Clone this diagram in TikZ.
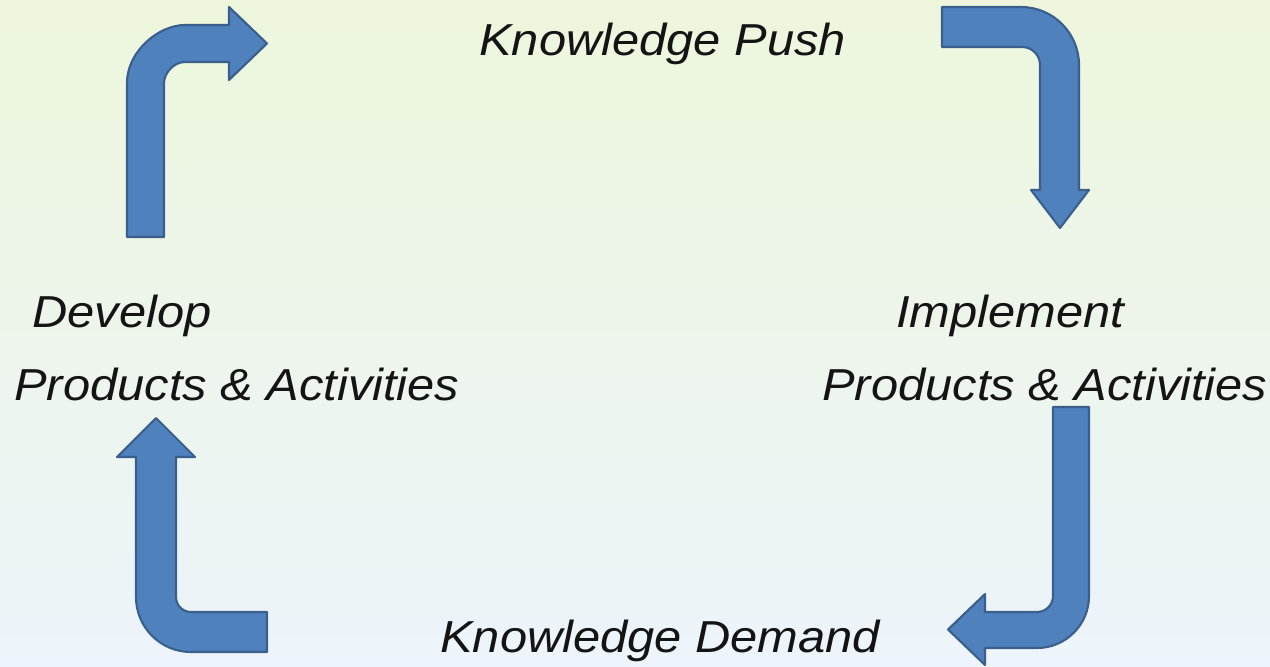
\documentclass[tikz,border=0pt]{standalone}
\usepackage{fontspec}
\newfontfamily\lblfont{Liberation Sans}[FakeStretch=1.09]
\definecolor{bgtop}{HTML}{EDF6DC}
\definecolor{bgmid}{HTML}{F0F7EE}
\definecolor{bgbot}{HTML}{EDF4FB}
\definecolor{arrowfill}{HTML}{4F81BD}
\definecolor{arrowline}{HTML}{3A5F8C}
\definecolor{txt}{HTML}{141414}
\tikzset{
  bigarrow/.style={fill=arrowfill, draw=arrowline, line width=1.2pt, line join=round},
  lbl/.style={anchor=base west, inner sep=0pt, text=txt, font=\lblfont\itshape\fontsize{25.5}{30}\selectfont}
}
\begin{document}
\begin{tikzpicture}[x=0.02cm, y=-0.02cm]
\useasboundingbox (0,0) rectangle (1270,666);
\shade[top color=bgtop, middle color=bgmid, bottom color=bgbot] (0,0) rectangle (1270,666);
% arrow 1: up then right
\draw[bigarrow] (127,237) -- (127,83) .. controls (127,51) and (159,25) .. (185,25) -- (229,25) -- (229,7) -- (267,43.5) -- (229,80) -- (229,62) -- (185,62) .. controls (173.4,62) and (164,73.6) .. (164,83) -- (164,237) -- cycle;
% arrow 2: right then down
\draw[bigarrow] (942,7) -- (1021,7) .. controls (1053,7) and (1079,33) .. (1079,65) -- (1079,190) -- (1089,190) -- (1060,228) -- (1031,190) -- (1040,190) -- (1040,65) .. controls (1040,55) and (1032,47) .. (1022,47) -- (942,47) -- cycle;
% arrow 3: down then left
\draw[bigarrow] (1053,407) -- (1089,407) -- (1089,596) .. controls (1089,624.7) and (1065.7,648) .. (1037,648) -- (985,648) -- (985,665) -- (948,629.5) -- (985,594) -- (985,612) -- (1037,612) .. controls (1045.8,612) and (1053,604.8) .. (1053,596) -- cycle;
% arrow 4: left then up
\draw[bigarrow] (267,612) -- (191,612) .. controls (182.7,612) and (176,605.3) .. (176,597) -- (176,457) -- (195,457) -- (156,418) -- (117,457) -- (136,457) -- (136,597) .. controls (136,627.4) and (160.6,652) .. (191,652) -- (267,652) -- cycle;
% labels
\node[lbl] (push) at (479,55) {Knowledge Push};
\node[lbl] (dev) at (32,327) {Develop};
\node[lbl] (devpa) at (14,400) {Products \& Activities};
\node[lbl] (impl) at (896,327) {Implement};
\node[lbl] (implpa) at (822,400) {Products \& Activities};
\node[lbl] (demand) at (440,652) {Knowledge Demand};
\end{tikzpicture}
\end{document}
